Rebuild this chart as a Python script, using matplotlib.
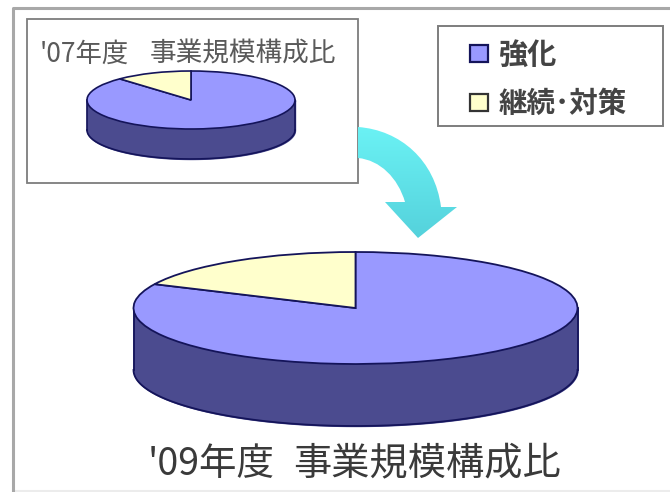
import numpy as np
import matplotlib
matplotlib.use('Agg')
import matplotlib.pyplot as plt
from matplotlib.patches import Rectangle, PathPatch
from matplotlib.path import Path

plt.rcParams['font.family'] = ['Noto Sans CJK JP', 'DejaVu Sans']

# Composition data
labels = ['強化', '継続･対策']
shares_07 = [88, 12]
shares_09 = [82, 18]
year_07 = "'07年度"
year_09 = "'09年度"
title = '事業規模構成比'

col_top = '#9999ff'
col_other = '#ffffcc'
col_side = '#4b4b8f'
col_edge = '#14145a'
col_frame = '#7d7d7d'

W, H = 670, 492
fig = plt.figure(figsize=(W / 100, H / 100), dpi=100)

# Background layer in pixel coordinates
bg = fig.add_axes([0, 0, 1, 1])
bg.set_xlim(0, W)
bg.set_ylim(H, 0)
bg.axis('off')


def pie_3d(cx, cy, rx, ry, depth, shares, lw):
    # Squashed pie with a drum side below it
    ax = fig.add_axes([(cx - rx * 1.25) / W, 1 - (cy + ry * 1.25) / H,
                       2.5 * rx / W, 2.5 * ry / H])
    ax.patch.set_alpha(0)
    # depth is expressed in pie radii on the y axis
    d = depth / ry
    t = np.linspace(np.pi, 2 * np.pi, 200)
    x = np.cos(t)
    ax.fill_between(x, np.sin(t), np.sin(t) - d, color=col_side, clip_on=False, zorder=0)
    ax.plot(x, np.sin(t) - d, color=col_edge, lw=lw, clip_on=False, zorder=1)
    ax.plot([-1, -1], [0, -d], color=col_edge, lw=lw, clip_on=False, zorder=1)
    ax.plot([1, 1], [0, -d], color=col_edge, lw=lw, clip_on=False, zorder=1)
    ax.pie(shares, startangle=90, counterclock=False, colors=[col_top, col_other],
           wedgeprops={'edgecolor': col_edge, 'linewidth': lw, 'zorder': 2})
    ax.set_aspect('auto')
    ax.set_xlim(-1.25, 1.25)
    ax.set_ylim(-1.25, 1.25)
    return ax


# Outer frame and inset box
bg.plot([13, 670], [491, 491], color='#ececec', lw=1.5)
bg.plot([13, 13, 670], [492, 8, 8], color='#a8a8a8', lw=2.2)
bg.add_patch(Rectangle((27, 19), 331, 164, fc='white', ec=col_frame, lw=1.3))
bg.text(40, 54, year_07, fontsize=19, color='#5a5a5a', ha='left', va='center')
bg.text(336, 54, title, fontsize=19.2, color='#5a5a5a', ha='right', va='center')

# Legend box
bg.add_patch(Rectangle((438, 26), 225, 100, fc='white', ec=col_frame, lw=1.4))
bg.add_patch(Rectangle((470, 45), 18, 17, fc=col_top, ec=col_edge, lw=1.6))
bg.add_patch(Rectangle((470, 94), 18, 17, fc=col_other, ec='#333333', lw=1.6))
bg.text(499, 55, labels[0], fontsize=21, color='#444444', va='center', weight='bold')
bg.text(499, 104, labels[1], fontsize=20.5, color='#444444', va='center', weight='bold')

# Curved arrow, filled with a vertical cyan gradient
verts = [(358, 127), (400, 130), (435, 160), (441, 207), (457, 207), (418, 238),
         (385, 202), (405, 202), (398, 178), (380, 160), (358, 158), (358, 127)]
codes = [Path.MOVETO, Path.CURVE4, Path.CURVE4, Path.CURVE4, Path.LINETO, Path.LINETO,
         Path.LINETO, Path.LINETO, Path.CURVE4, Path.CURVE4, Path.CURVE4, Path.CLOSEPOLY]
arrow = PathPatch(Path(verts, codes), fc='none', ec='none')
bg.add_patch(arrow)
grad = np.linspace(0, 1, 128).reshape(-1, 1, 1)
img = (1 - grad) * np.array([[[0.42, 0.95, 0.96]]]) + grad * np.array([[[0.33, 0.82, 0.86]]])
im = bg.imshow(img, extent=(350, 460, 240, 125), aspect='auto', zorder=3)
im.set_clip_path(arrow)
bg.set_xlim(0, W)
bg.set_ylim(H, 0)

# Pies
pie_3d(191, 100, 104, 29, 30, shares_07, 1.2)
pie_3d(355.5, 308, 222, 56, 62, shares_09, 1.3)

bg.text(148, 464, year_09, fontsize=27, color='#3a3a3a', ha='left', va='center')
bg.text(561, 464, title, fontsize=27.5, color='#3a3a3a', ha='right', va='center')

fig.savefig('out.png', dpi=100)
